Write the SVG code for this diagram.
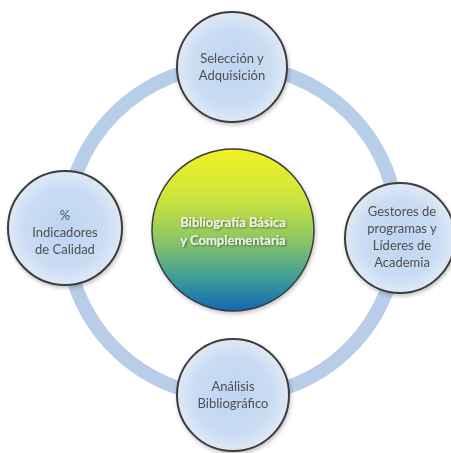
<svg xmlns="http://www.w3.org/2000/svg" width="451" height="453" viewBox="0 0 451 453">
<defs>
<radialGradient id="nodeFill" cx="50%" cy="50%" r="50%">
<stop offset="0" stop-color="#bcd5f3"/>
<stop offset="0.7" stop-color="#cadcf3"/>
<stop offset="1" stop-color="#dfe9f6"/>
</radialGradient>
<linearGradient id="centerFill" x1="0" y1="0" x2="0" y2="1">
<stop offset="0" stop-color="#f2f224"/>
<stop offset="0.3" stop-color="#cde43c"/>
<stop offset="0.55" stop-color="#8fc862"/>
<stop offset="0.8" stop-color="#3d9c98"/>
<stop offset="1" stop-color="#1468b4"/>
</linearGradient>
<filter id="shadow" x="-20%" y="-20%" width="140%" height="140%">
<feGaussianBlur in="SourceAlpha" stdDeviation="2"/>
<feOffset dx="1" dy="2" result="b"/>
<feComponentTransfer><feFuncA type="linear" slope="0.25"/></feComponentTransfer>
<feMerge><feMergeNode/><feMergeNode in="SourceGraphic"/></feMerge>
</filter>
<filter id="txtShadow" x="-10%" y="-30%" width="120%" height="160%">
<feGaussianBlur in="SourceAlpha" stdDeviation="0.8"/>
<feOffset dx="0.5" dy="1" result="b"/>
<feComponentTransfer><feFuncA type="linear" slope="0.5"/></feComponentTransfer>
<feMerge><feMergeNode/><feMergeNode in="SourceGraphic"/></feMerge>
</filter>
</defs>
<style>
.ring{fill:none;stroke:#b7cde8;stroke-width:14}
.node{fill:url(#nodeFill);stroke:#3c3c3c;stroke-width:2}
.lbl{font-family:Lato,"Open Sans","Liberation Sans",sans-serif;font-size:13px;fill:#505050;text-anchor:middle}
.clbl{font-family:Lato,"Open Sans","Liberation Sans",sans-serif;font-size:13px;font-weight:bold;fill:#eef2ee;text-anchor:middle}
</style>
<rect width="451" height="453" fill="#ffffff"/>
<g id="connectors">
<circle class="ring" cx="232" cy="231" r="166"/>
</g>
<g id="center" filter="url(#shadow)">
<circle cx="233" cy="230" r="81" fill="url(#centerFill)" stroke="#3c3c3c" stroke-width="1.5"/>
<g filter="url(#txtShadow)">
<text class="clbl" x="233" y="227">Bibliografía Básica</text>
<text class="clbl" x="233" y="245">y Complementaria</text>
</g>
</g>
<g id="seleccion" filter="url(#shadow)">
<circle class="node" cx="232" cy="67" r="55"/>
<text class="lbl" x="232" y="63">Selección y</text>
<text class="lbl" x="232" y="80">Adquisición</text>
</g>
<g id="gestores" filter="url(#shadow)">
<circle class="node" cx="400" cy="238" r="55"/>
<text class="lbl" x="402" y="216">Gestores de</text>
<text class="lbl" x="402" y="233">programas y</text>
<text class="lbl" x="402" y="250">Líderes de</text>
<text class="lbl" x="402" y="267">Academia</text>
</g>
<g id="analisis" filter="url(#shadow)">
<circle class="node" cx="233" cy="395" r="56"/>
<text class="lbl" x="233" y="391">Análisis</text>
<text class="lbl" x="233" y="408">Bibliográfico</text>
</g>
<g id="indicadores" filter="url(#shadow)">
<circle class="node" cx="65" cy="228" r="57"/>
<text class="lbl" x="65" y="220">%</text>
<text class="lbl" x="65" y="237">Indicadores</text>
<text class="lbl" x="65" y="254">de Calidad</text>
</g>
</svg>
